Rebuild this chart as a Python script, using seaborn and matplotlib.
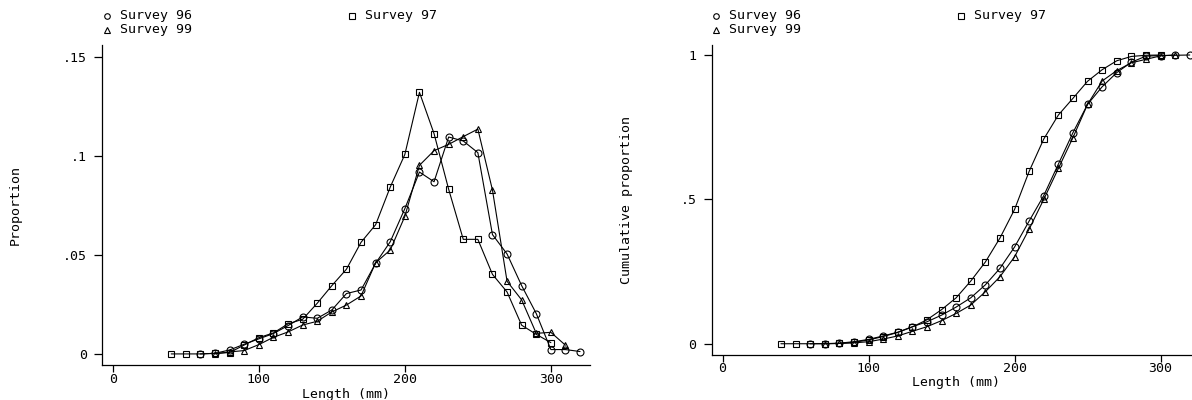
import matplotlib
matplotlib.use("Agg")
import matplotlib.pyplot as plt
from matplotlib.lines import Line2D
import seaborn as sns
import pandas as pd

# Length classes (mm) covered by each survey
length_96 = [60, 70, 80, 90, 100, 110, 120, 130, 140, 150, 160, 170, 180, 190,
             200, 210, 220, 230, 240, 250, 260, 270, 280, 290, 300, 310, 320]
length_97 = [40, 50, 60, 70, 80, 90, 100, 110, 120, 130, 140, 150, 160, 170,
             180, 190, 200, 210, 220, 230, 240, 250, 260, 270, 280, 290, 300]
length_99 = [70, 80, 90, 100, 110, 120, 130, 140, 150, 160, 170, 180, 190,
             200, 210, 220, 230, 240, 250, 260, 270, 280, 290, 300, 310]

# Proportion of fish in each length class
prop_96 = [0.0000, 0.0003, 0.0020, 0.0049, 0.0076, 0.0103, 0.0143, 0.0187, 0.0180,
           0.0222, 0.0305, 0.0323, 0.0458, 0.0567, 0.0734, 0.0919, 0.0870, 0.1096,
           0.1076, 0.1017, 0.0603, 0.0505, 0.0345, 0.0204, 0.0022, 0.0022, 0.0012]
prop_97 = [0.0000, 0.0000, 0.0000, 0.0003, 0.0007, 0.0045, 0.0082, 0.0106, 0.0152,
           0.0175, 0.0256, 0.0345, 0.0428, 0.0564, 0.0653, 0.0843, 0.1008, 0.1322,
           0.1113, 0.0832, 0.0579, 0.0579, 0.0402, 0.0313, 0.0145, 0.0099, 0.0057]
prop_99 = [0.0000, 0.0010, 0.0017, 0.0047, 0.0084, 0.0111, 0.0146, 0.0165, 0.0212,
           0.0247, 0.0293, 0.0461, 0.0525, 0.0695, 0.0953, 0.1027, 0.1059, 0.1098,
           0.1136, 0.0828, 0.0367, 0.0273, 0.0104, 0.0109, 0.0044]

# Cumulative proportion by length class
cum_96 = [0.000, 0.0003, 0.002, 0.007, 0.015, 0.027, 0.040, 0.059, 0.076, 0.099,
          0.127, 0.159, 0.204, 0.261, 0.335, 0.425, 0.513, 0.622, 0.731, 0.829,
          0.890, 0.939, 0.975, 0.996, 0.998, 0.999, 1.000]
cum_97 = [0.000, 0.000, 0.000, 0.0003, 0.001, 0.005, 0.013, 0.025, 0.039, 0.058,
          0.083, 0.118, 0.159, 0.217, 0.283, 0.366, 0.465, 0.597, 0.709, 0.792,
          0.850, 0.909, 0.949, 0.980, 0.995, 0.999, 1.000]
cum_99 = [0.000, 0.001, 0.003, 0.007, 0.016, 0.027, 0.043, 0.059, 0.080, 0.105,
          0.134, 0.180, 0.232, 0.301, 0.397, 0.500, 0.607, 0.714, 0.829, 0.910,
          0.946, 0.973, 0.985, 0.997, 1.000]

series_names = ["Survey 96", "Survey 97", "Survey 99"]
series_markers = ["o", "s", "^"]

x_ticks = [0, 100, 200, 300]
prop_ticks = [0, 0.05, 0.10, 0.15]
prop_tick_labels = ["0", ".05", ".1", ".15"]
cum_ticks = [0, 0.5, 1.0]
cum_tick_labels = ["0", ".5", "1"]

FS = 9.5

sns.set_theme(style="ticks")
plt.rcParams["font.family"] = ["DejaVu Sans Mono", "DejaVu Sans"]
plt.rcParams["font.size"] = FS
plt.rcParams["text.color"] = "black"
plt.rcParams["axes.labelcolor"] = "black"
plt.rcParams["xtick.color"] = "black"
plt.rcParams["ytick.color"] = "black"

W, H = 1192, 400
fig = plt.figure(figsize=(W / 100, H / 100), dpi=100)
fig.patch.set_facecolor("white")


def px_box(x0, y0, x1, y1):
    return [x0 / W, 1 - y1 / H, (x1 - x0) / W, (y1 - y0) / H]


ax1 = fig.add_axes(px_box(102, 45, 590, 365))
ax2 = fig.add_axes(px_box(711.7, 45, 1199.7, 355))

frames = {
    "prop": [pd.DataFrame({"length": length_96, "value": prop_96}),
             pd.DataFrame({"length": length_97, "value": prop_97}),
             pd.DataFrame({"length": length_99, "value": prop_99})],
    "cum": [pd.DataFrame({"length": length_96, "value": cum_96}),
            pd.DataFrame({"length": length_97, "value": cum_97}),
            pd.DataFrame({"length": length_99, "value": cum_99})],
}

for ax, key in [(ax1, "prop"), (ax2, "cum")]:
    for df, mk in zip(frames[key], series_markers):
        sns.lineplot(data=df, x="length", y="value", ax=ax, color="black",
                     linewidth=0.8, marker=mk, markersize=5.0,
                     markerfacecolor="none", markeredgecolor="black",
                     markeredgewidth=0.8, clip_on=False)
    ax.set_facecolor("white")
    for side in ["top", "right"]:
        ax.spines[side].set_visible(False)
    for side in ["left", "bottom"]:
        ax.spines[side].set_linewidth(0.9)
        ax.spines[side].set_color("black")
    ax.set_xticks(x_ticks)
    ax.set_xticklabels([str(t) for t in x_ticks])
    ax.set_xlim(-7.4, 326.8)
    ax.set_xlabel("Length (mm)", fontsize=FS, labelpad=1)
    ax.tick_params(labelsize=FS)

ax1.set_ylim(-0.0056, 0.1561)
ax1.set_yticks(prop_ticks)
ax1.set_yticklabels(prop_tick_labels)
ax1.set_ylabel("Proportion", fontsize=FS)
ax1.tick_params(axis="y", length=6, width=0.9, pad=5)
ax1.tick_params(axis="x", length=5, width=0.9, pad=1)

ax2.set_ylim(-0.039, 1.0346)
ax2.set_yticks(cum_ticks)
ax2.set_yticklabels(cum_tick_labels)
ax2.set_ylabel("Cumulative proportion", fontsize=FS)
ax2.tick_params(axis="y", length=6, width=0.9, pad=5)
ax2.tick_params(axis="x", length=5, width=0.9, pad=0)

for ax, xpix, left_px, width_px in [(ax1, 15, 102, 488), (ax2, 627, 711.7, 488)]:
    ax.yaxis.label.set_va("center")
    ax.yaxis.set_label_coords((xpix - left_px) / width_px, 0.5)

# Legends above each panel: two columns, filled row by row
legend_slots = {"Survey 96": (0, 16), "Survey 97": (245, 16), "Survey 99": (0, 30)}
for base in [107, 716]:
    for name, mk in zip(series_names, series_markers):
        dx, py = legend_slots[name]
        fig.add_artist(Line2D([(base + dx) / W], [1 - py / H], marker=mk,
                              markersize=4, markerfacecolor="none",
                              markeredgecolor="black", markeredgewidth=0.8,
                              linestyle="none", transform=fig.transFigure))
        fig.text((base + dx + 13) / W, 1 - py / H, name, ha="left", va="center",
                 fontsize=FS)

fig.savefig("out.png", dpi=100, facecolor="white")
